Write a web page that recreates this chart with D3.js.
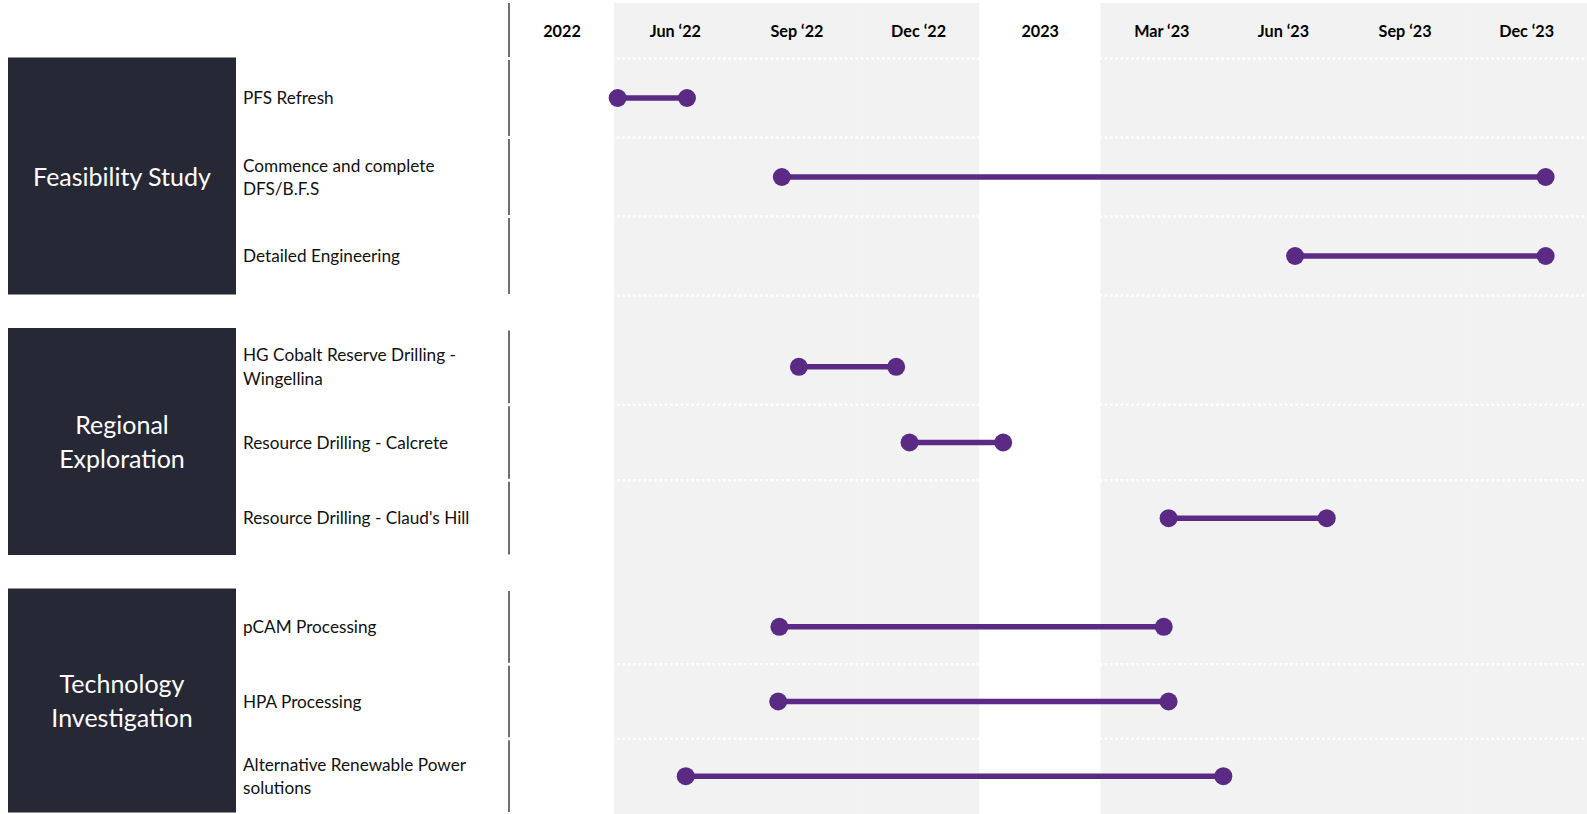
<!DOCTYPE html>
<html>
<head>
<meta charset="utf-8">
<script src="https://cdn.jsdelivr.net/npm/d3@7"></script>
<style>
  html, body { margin: 0; padding: 0; background: #ffffff; }
  svg { display: block; font-family: Lato, "Open Sans", sans-serif; }
</style>
</head>
<body>
<svg id="chart" width="1587" height="814"></svg>
<script>
// Timeline periods (one column each); 4-digit labels are year marker columns
const periodLabels = ["2022", "Jun ‘22", "Sep ‘22", "Dec ‘22", "2023", "Mar ‘23", "Jun ‘23", "Sep ‘23", "Dec ‘23"];

// Workstreams
const groupNames = ["Feasibility Study", "Regional Exploration", "Technology Investigation"];

// Activities, the workstream each belongs to, and start / end in period units
const taskNames = [
  "PFS Refresh",
  "Commence and complete DFS/B.F.S",
  "Detailed Engineering",
  "HG Cobalt Reserve Drilling - Wingellina",
  "Resource Drilling - Calcrete",
  "Resource Drilling - Claud's Hill",
  "pCAM Processing",
  "HPA Processing",
  "Alternative Renewable Power solutions"
];
const taskGroup = [0, 0, 0, 1, 1, 1, 2, 2, 2];
const taskStart = [1.03, 2.38, 6.60, 2.52, 3.43, 5.56, 2.36, 2.35, 1.59];
const taskEnd   = [1.60, 8.66, 8.66, 3.32, 4.20, 6.86, 5.52, 5.56, 6.01];

// ---- layout ----
const W = 1587, H = 814;
const timeLeft = 509, firstCol = 614;
const headerH = 58.5, groupGap = 33.5;
const groupHeights = [237, 227, 224];
const boxLeft = 8, boxRight = 236, labelX = 243;
const purple = "#5a2a84";

const svg = d3.select("#chart");

const x = d3.scaleLinear()
  .domain([0, 1, periodLabels.length])
  .range([timeLeft, firstCol, W]);

// shaded quarter columns
const isYear = s => /^\d{4}$/.test(s);
svg.append("g").selectAll("rect")
  .data(periodLabels.map((l, i) => ({ l, i })).filter(d => !isYear(d.l)))
  .join("rect")
  .attr("x", d => x(d.i))
  .attr("width", d => x(d.i + 1) - x(d.i) + 0.3)
  .attr("y", 3)
  .attr("height", H - 3)
  .attr("fill", "#f2f2f2");

// period header axis
const axis = d3.axisTop(x)
  .tickValues(d3.range(periodLabels.length).map(i => i + 0.5))
  .tickFormat(d => periodLabels[Math.floor(d)])
  .tickSize(0)
  .tickPadding(0);
const axG = svg.append("g").attr("transform", "translate(0,37)").call(axis);
axG.select(".domain").remove();
axG.selectAll("text")
  .attr("font-family", "Lato, 'Open Sans', sans-serif")
  .attr("font-size", 16.2)
  .attr("font-weight", 700)
  .attr("fill", "#000");

// row geometry for each workstream
const rows = [];
const groupsLayout = [];
let yCursor = headerH;
groupNames.forEach((g, gi) => {
  const idx = d3.range(taskNames.length).filter(i => taskGroup[i] === gi);
  const band = d3.scaleBand().domain(idx).range([yCursor, yCursor + groupHeights[gi]]);
  groupsLayout.push({ name: g, top: yCursor, bottom: yCursor + groupHeights[gi], band, idx });
  idx.forEach((i, k) => rows.push({ i, gi, k, y0: band(i), y1: band(i) + band.bandwidth() }));
  yCursor += groupHeights[gi] + groupGap;
});

// dotted row separators
const sepYs = [];
groupsLayout.forEach((g, gi) => {
  if (gi === 0) sepYs.push(g.top);
  g.idx.slice(1).forEach(i => sepYs.push(g.band(i)));
  if (gi === 0) sepYs.push(g.bottom);
});
svg.append("g").selectAll("line")
  .data(sepYs)
  .join("line")
  .attr("x1", timeLeft + 2).attr("x2", W)
  .attr("y1", d => d).attr("y2", d => d)
  .attr("stroke", "#ffffff")
  .attr("stroke-width", 2.5)
  .attr("stroke-dasharray", "2.7 2.6");

// left timeline rule, broken at each row edge
const ruleSegs = [[3, headerH - 1.5]].concat(rows.map(r => [r.y0 + 1.5, r.y1 - 1.5]));
svg.append("g").selectAll("line")
  .data(ruleSegs)
  .join("line")
  .attr("x1", timeLeft).attr("x2", timeLeft)
  .attr("y1", d => d[0]).attr("y2", d => d[1])
  .attr("stroke", "#6e6e6e")
  .attr("stroke-width", 2);

// word wrapping helper
function wrapLines(textSel, str, maxW) {
  const words = str.split(" ");
  const probe = textSel.append("tspan");
  const lines = [];
  let cur = [];
  for (const w of words) {
    probe.text(cur.concat(w).join(" "));
    if (probe.node().getComputedTextLength() > maxW && cur.length) {
      lines.push(cur.join(" "));
      cur = [w];
    } else cur.push(w);
  }
  if (cur.length) lines.push(cur.join(" "));
  probe.remove();
  return lines;
}
function placeLines(textSel, lines, cx, cy, lineH) {
  const y0 = cy - (lines.length - 1) * lineH / 2;
  lines.forEach((ln, j) => {
    textSel.append("tspan")
      .attr("x", cx)
      .attr("y", y0 + j * lineH)
      .attr("dy", "0.36em")
      .text(ln);
  });
}

// workstream boxes
const gBoxes = svg.append("g");
groupsLayout.forEach(g => {
  gBoxes.append("rect")
    .attr("x", boxLeft).attr("y", g.top - 1)
    .attr("width", boxRight - boxLeft).attr("height", g.bottom - g.top)
    .attr("fill", "#262935");
  const t = gBoxes.append("text")
    .attr("text-anchor", "middle")
    .attr("font-size", 25)
    .attr("fill", "#ffffff");
  const lines = wrapLines(t, g.name, 205);
  placeLines(t, lines, (boxLeft + boxRight) / 2, (g.top + g.bottom) / 2 - 0.5, 34.5);
});

// activity labels
const gLabels = svg.append("g");
rows.forEach(r => {
  const t = gLabels.append("text")
    .attr("font-size", 17.2)
    .attr("fill", "#111111");
  const lines = wrapLines(t, taskNames[r.i], 250);
  placeLines(t, lines, labelX, (r.y0 + r.y1) / 2, 23.3);
});

// activity spans
const gBars = svg.append("g");
const spans = rows.map(r => ({ ...r, s: taskStart[r.i], e: taskEnd[r.i], cy: (r.y0 + r.y1) / 2 }));
gBars.selectAll("line")
  .data(spans)
  .join("line")
  .attr("x1", d => x(d.s)).attr("x2", d => x(d.e))
  .attr("y1", d => d.cy).attr("y2", d => d.cy)
  .attr("stroke", purple)
  .attr("stroke-width", 5.5);
gBars.selectAll("circle")
  .data(spans.flatMap(d => [{ v: d.s, cy: d.cy }, { v: d.e, cy: d.cy }]))
  .join("circle")
  .attr("cx", d => x(d.v))
  .attr("cy", d => d.cy)
  .attr("r", 9)
  .attr("fill", purple);
</script>
</body>
</html>
